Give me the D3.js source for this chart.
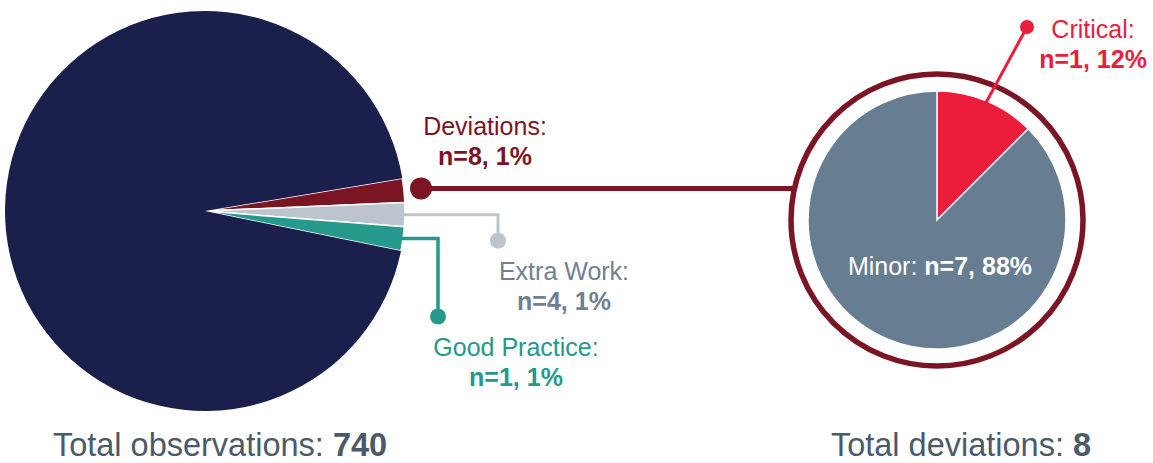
<!DOCTYPE html>
<html>
<head>
<meta charset="utf-8">
<script src="https://cdn.jsdelivr.net/npm/d3@7"></script>
<style>
  html, body { margin: 0; padding: 0; background: #fff; }
  svg { display: block; }
  svg text { font-family: Arial, "Liberation Sans", Helvetica, sans-serif; }
</style>
</head>
<body>
<div id="chart"></div>
<script>
// observations
const obsCategories = ["Deviations", "Extra Work", "Good Practice", "Other"]
const obsCounts = [8, 4, 1, 727]
const obsPercents = ["1%", "1%", "1%", ""]
const obsTotal = 740

// deviations
const devCategories = ["Critical", "Minor"]
const devCounts = [1, 7]
const devPercents = ["12%", "88%"]
const devTotal = 8

const width = 1153
const height = 463

const colors = {
  "Deviations": "#7b1524",
  "Extra Work": "#bcc5cd",
  "Good Practice": "#25998b",
  "Other": "#1b1f4b",
  "Critical": "#ec1c3b",
  "Minor": "#677e92"
}
const textColors = {
  "Deviations": "#7b1524",
  "Extra Work": "#6f8090",
  "Good Practice": "#25998b",
  "Critical": "#ec1c3b"
}

const svg = d3.select("#chart")
  .append("svg")
  .attr("width", width)
  .attr("height", height)

// ---- big pie ----
const big = { cx: 205, cy: 211, r: 200 }
// small categories get a minimum visible wedge, like the original
const minShare = 0.0202
const rad = d => d * Math.PI / 180

const bigData = obsCategories.map((c, i) => ({ cat: c, n: obsCounts[i], pct: obsPercents[i] }))
const bigPie = d3.pie()
  .sort(null)
  .value(d => Math.max(d.n, obsTotal * minShare))
  .startAngle(rad(80.6))
  .endAngle(rad(80.6) + 2 * Math.PI)

const bigArc = d3.arc().innerRadius(0).outerRadius(big.r)
const bigArcs = bigPie(bigData)

const gBig = svg.append("g").attr("transform", `translate(${big.cx},${big.cy})`)
gBig.selectAll("path")
  .data(bigArcs)
  .enter()
  .append("path")
  .attr("d", bigArc)
  .attr("fill", d => colors[d.data.cat])
  .attr("stroke", "#fff")
  .attr("stroke-width", d => d.data.cat === "Other" ? 0 : 1.5)
  .attr("stroke-linejoin", "round")

// point on the outer edge at the middle of a wedge
const edgePoint = (d, r, cx, cy) => {
  const a = (d.startAngle + d.endAngle) / 2
  return [cx + Math.sin(a) * r, cy - Math.cos(a) * r]
}

// ---- small pie ----
const small = { cx: 937, cy: 220, r: 129, ring: 146 }
const devData = devCategories.map((c, i) => ({ cat: c, n: devCounts[i], pct: devPercents[i] }))
const smallPie = d3.pie().sort(null).value(d => d.n)
const smallArc = d3.arc().innerRadius(0).outerRadius(small.r)
const smallArcs = smallPie(devData)

svg.append("circle")
  .attr("cx", small.cx)
  .attr("cy", small.cy)
  .attr("r", small.ring)
  .attr("fill", "none")
  .attr("stroke", colors["Deviations"])
  .attr("stroke-width", 5.5)

const gSmall = svg.append("g").attr("transform", `translate(${small.cx},${small.cy})`)
gSmall.selectAll("path")
  .data(smallArcs)
  .enter()
  .append("path")
  .attr("d", smallArc)
  .attr("fill", d => colors[d.data.cat])
  .attr("stroke", "#fff")
  .attr("stroke-width", 1.5)

// ---- leaders ----
function addLabel(x, y, cat, d, color) {
  const t = svg.append("text")
    .attr("x", x)
    .attr("y", y)
    .attr("text-anchor", "middle")
    .attr("font-size", 25)
    .attr("fill", color)
  t.append("tspan").text(cat + ":")
  t.append("tspan")
    .attr("x", x)
    .attr("dy", 30)
    .attr("font-weight", "bold")
    .text(`n=${d.n}, ${d.pct}`)
}

// Deviations: straight line to the ring
const devArc = bigArcs[0]
const devStart = edgePoint(devArc, big.r, big.cx, big.cy)
const devY = devStart[1] - 2
const devDotX = big.cx + big.r + 16
const ringX = small.cx - Math.sqrt(small.ring * small.ring - (small.cy - devY) ** 2)
svg.append("line")
  .attr("x1", devDotX).attr("y1", devY)
  .attr("x2", ringX).attr("y2", devY)
  .attr("stroke", colors["Deviations"])
  .attr("stroke-width", 5)
svg.append("circle")
  .attr("cx", devDotX).attr("cy", devY).attr("r", 11)
  .attr("fill", colors["Deviations"])
addLabel(devDotX + 64, devY - 53, "Deviations", devArc.data, textColors["Deviations"])

// Extra Work and Good Practice: elbow leaders
const elbows = [
  { arc: bigArcs[1], x: 498, drop: 26, w: 3, dx: 66 },
  { arc: bigArcs[2], x: 438, drop: 78, w: 3.5, dx: 78 }
]
elbows.forEach(e => {
  const p = edgePoint(e.arc, big.r - 3, big.cx, big.cy)
  const c = colors[e.arc.data.cat]
  svg.append("path")
    .attr("d", `M${p[0]},${p[1]}H${e.x}V${p[1] + e.drop}`)
    .attr("fill", "none")
    .attr("stroke", c)
    .attr("stroke-width", e.w)
  svg.append("circle")
    .attr("cx", e.x).attr("cy", p[1] + e.drop).attr("r", 8)
    .attr("fill", c)
  addLabel(e.x + e.dx, p[1] + e.drop + 39, e.arc.data.cat, e.arc.data, textColors[e.arc.data.cat])
})

// Critical: leader from inside the slice out to the label
const critArc = smallArcs[0]
const c0 = edgePoint(critArc, 124, small.cx, small.cy)
const c1 = [small.cx + Math.sin(rad(25)) * 213, small.cy - Math.cos(rad(25)) * 213]
svg.append("line")
  .attr("x1", c0[0]).attr("y1", c0[1])
  .attr("x2", c1[0]).attr("y2", c1[1])
  .attr("stroke", colors["Critical"])
  .attr("stroke-width", 3)
svg.append("circle")
  .attr("cx", c1[0]).attr("cy", c1[1]).attr("r", 7)
  .attr("fill", colors["Critical"])
addLabel(c1[0] + 66, c1[1] + 11, "Critical", critArc.data, textColors["Critical"])

// Minor label inside pie
const minor = smallArcs[1].data
const mt = svg.append("text")
  .attr("x", small.cx + 3)
  .attr("y", 275)
  .attr("text-anchor", "middle")
  .attr("font-size", 25)
  .attr("fill", "#fff")
mt.append("tspan").text(minor.cat + ": ")
mt.append("tspan").attr("font-weight", "bold").text(`n=${minor.n}, ${minor.pct}`)

// ---- totals ----
const totals = [
  { x: 220, label: "Total observations: ", value: obsTotal },
  { x: 961, label: "Total deviations: ", value: devTotal }
]
totals.forEach(t => {
  const el = svg.append("text")
    .attr("x", t.x)
    .attr("y", 456)
    .attr("text-anchor", "middle")
    .attr("font-size", 32.5)
    .attr("fill", "#4b5a6a")
  el.append("tspan").text(t.label)
  el.append("tspan").attr("font-weight", "bold").text(t.value)
})
</script>
</body>
</html>
